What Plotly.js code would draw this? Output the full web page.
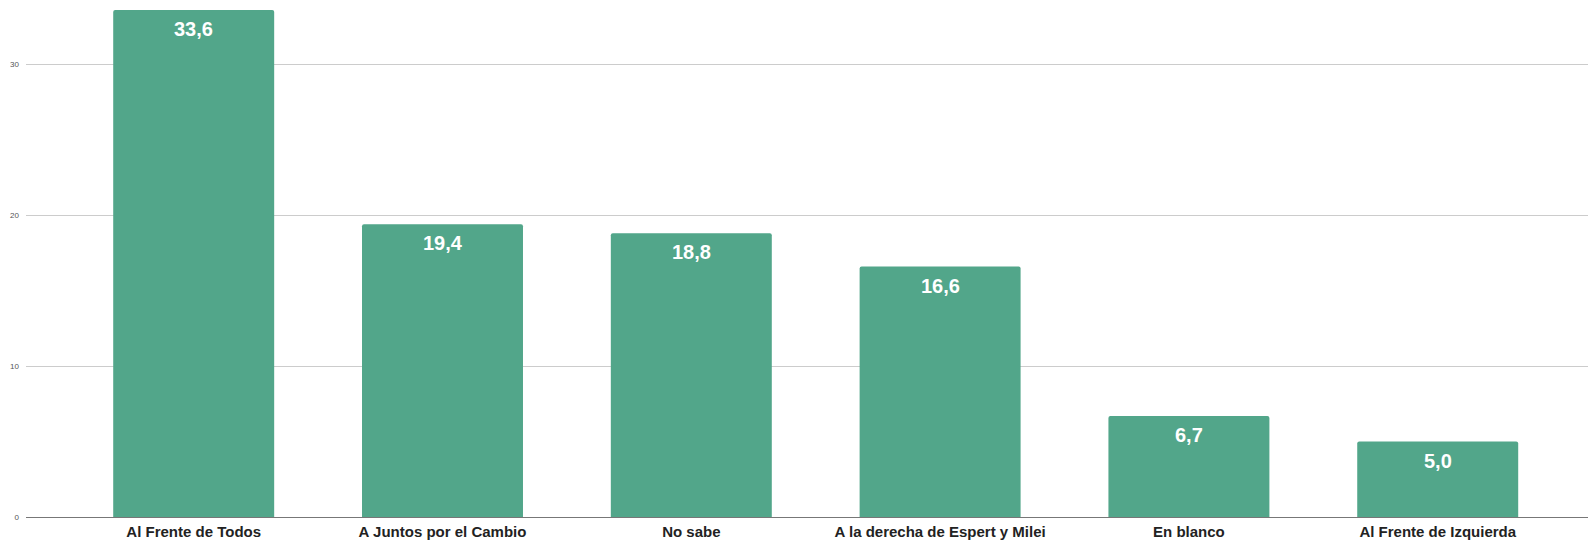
<!DOCTYPE html>
<html>
<head>
<meta charset="utf-8">
<script src="https://cdn.plot.ly/plotly-3.0.1.min.js"></script>
<style>html,body{margin:0;padding:0;background:#fff;}#chart{width:1588px;height:542px;}</style>
</head>
<body>
<div id="chart"></div>
<script>
const categories = ["Al Frente de Todos", "A Juntos por el Cambio", "No sabe", "A la derecha de Espert y Milei", "En blanco", "Al Frente de Izquierda"];
const values = [33.6, 19.4, 18.8, 16.6, 6.7, 5.0];
const yTicks = [0, 10, 20, 30];

const trace = {
  type: 'bar',
  x: categories,
  y: values,
  marker: {color: '#52a68a', cornerradius: 2},
  hoverinfo: 'none'
};

const annotations = categories.map((c, i) => ({
  x: c, y: values[i], xref: 'x', yref: 'y',
  text: values[i].toFixed(1).replace('.', ','),
  showarrow: false, yanchor: 'top', yshift: -6,
  font: {family: 'Liberation Sans, Arial, sans-serif', size: 20, color: '#ffffff', weight: 'bold'}
}));

const layout = {
  width: 1588, height: 542,
  margin: {l: 26, r: 0, t: 5, b: 25},
  paper_bgcolor: '#ffffff', plot_bgcolor: '#ffffff',
  bargap: 0.353,
  showlegend: false,
  xaxis: {
    range: [-0.674, 5.604],
    showgrid: false, ticks: '', ticklabelstandoff: 4,
    tickfont: {family: 'Liberation Sans, Arial, sans-serif', size: 15, color: '#222222', weight: 'bold'},
    fixedrange: true
  },
  yaxis: {
    range: [0, 33.93],
    tickvals: yTicks,
    ticktext: yTicks.map(String),
    showgrid: true, gridcolor: '#cccccc', gridwidth: 1,
    zeroline: true, zerolinecolor: '#777777', zerolinewidth: 1,
    ticks: '', ticklabelstandoff: 6,
    tickfont: {family: 'Liberation Sans, Arial, sans-serif', size: 8, color: '#555555'},
    fixedrange: true
  },
  annotations: annotations,
  font: {family: 'Liberation Sans, Arial, sans-serif'}
};

Plotly.newPlot('chart', [trace], layout, {displayModeBar: false, staticPlot: true});
</script>
</body>
</html>
